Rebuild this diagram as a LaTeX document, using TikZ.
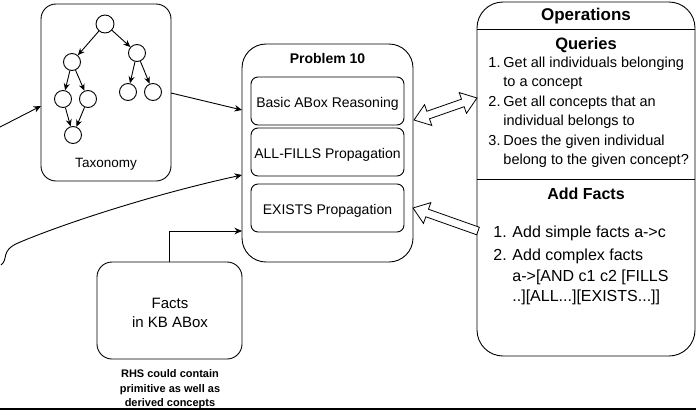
\documentclass[tikz,border=0pt]{standalone}
\usepackage{fontspec}
\setmainfont{Liberation Sans}
\usetikzlibrary{arrows.meta,calc}
\begin{document}
\begin{tikzpicture}[x=1pt,y=-1pt,
  line width=0.9pt,
  rbox/.style={draw, rounded corners=#1, inner sep=0pt, outer sep=0pt},
  tn/.style={draw, circle, minimum size=17pt, inner sep=0pt},
  tarr/.style={-{Stealth[length=7pt,width=6pt]}},
  arr/.style={-{Stealth[length=7.5pt,width=6.5pt]}},
  txt/.style={inner sep=0pt, anchor=base},
  sz/.style={font=\fontsize{#1}{#1}\selectfont},
  bsz/.style={font=\bfseries\fontsize{#1}{#1}\selectfont},
  inbox/.style={rbox=7, minimum width=153pt, minimum height=48pt, sz=14, text height=13pt, text depth=0pt},
  flex/.style={draw, line width=0.8pt, fill=white, line join=miter}
]
\useasboundingbox (0,0) rectangle (696,410);

% Taxonomy
\node[rbox=15, minimum width=130pt, minimum height=177pt] (tax) at (106,92.5) {};
\node[tn, minimum size=18pt] (t0) at (105,24) {};
\node[tn] (t1) at (72,62) {};
\node[tn] (t2) at (137,53) {};
\node[tn] (t3) at (63,99) {};
\node[tn] (t4) at (88,99) {};
\node[tn] (t5) at (128,92) {};
\node[tn] (t6) at (153,92) {};
\node[tn] (t7) at (73,135) {};
\draw[tarr] (t0) -- (t1);
\draw[tarr] (t0) -- (t2);
\draw[tarr] (t1) -- (t3);
\draw[tarr] (t1) -- (t4);
\draw[tarr] (t2) -- (t5);
\draw[tarr] (t2) -- (t6);
\draw[tarr] (t3) -- (t7);
\draw[tarr] (t4) -- (t7);
\node[txt, sz=13.5] (taxl) at (106,167) {Taxonomy};

% Problem 10
\node[rbox=24, minimum width=171pt, minimum height=218pt] (p10) at (327.5,153) {};
\node[txt, bsz=14] (p10t) at (327.5,63) {Problem 10};
\node[inbox] (b1) at (327.5,101) {Basic ABox Reasoning};
\node[inbox] (b2) at (327.5,152) {ALL-FILLS Propagation};
\node[inbox] (b3) at (327.5,208) {EXISTS Propagation};

% Facts
\node[rbox=15, minimum width=145pt, minimum height=97pt] (facts) at (169.5,310.5) {};
\node[txt, sz=15] (factsa) at (170,308.4) {Facts};
\node[txt, sz=15] (factsb) at (170,327.4) {in KB ABox};
\node[txt, bsz=11] (note1) at (170,377) {RHS could contain};
\node[txt, bsz=11] (note2) at (170,392.5) {primitive as well as};
\node[txt, bsz=11] (note3) at (170,406.5) {derived concepts};

% Operations
\node[rbox=26, minimum width=218pt, minimum height=354pt] (ops) at (586,179) {};
\coordinate (hl) at (0,29);
\draw (ops.west |- hl) -- (ops.east |- hl);
\draw (ops.west) -- (ops.east);
\node[txt, bsz=17] (opst) at (586,20) {Operations};
\node[txt, bsz=16.5] (qt) at (586,49) {Queries};
\node[txt, bsz=16] (aft) at (586,199) {Add Facts};
\begin{scope}[every node/.style={inner sep=0pt, sz=14.5, anchor=base west}]
\node (q1n) at (488,67.2) {1.};
\node (q1a) at (503,67.2) {Get all individuals belonging};
\node (q1b) at (503,86.7) {to a concept};
\node (q2n) at (488,106.2) {2.};
\node (q2a) at (503,106.2) {Get all concepts that an};
\node (q2b) at (503,125.7) {individual belongs to};
\node (q3n) at (488,145.2) {3.};
\node (q3a) at (503,145.2) {Does the given individual};
\node (q3b) at (503,164.7) {belong to the given concept?};
\end{scope}
\begin{scope}[every node/.style={inner sep=0pt, sz=16, anchor=base west}]
\node (f1n) at (493,237.8) {1.};
\node (f1a) at (512,237.8) {Add simple facts a->c};
\node (f2n) at (493,260.8) {2.};
\node (f2a) at (512,260.8) {Add complex facts};
\node (f2b) at (512,281.8) {a->[AND c1 c2 [FILLS};
\node (f2c) at (512,301.8) {..][ALL...][EXISTS...]]};
\end{scope}

% connectors
\coordinate (in1) at (0,127);
\draw[arr] (in1) -- ($(tax.west)+(0,13.5)$);
\draw[arr] ($(tax.east)+(0,0.5)$) -- ($(p10.west)+(0,-43)$);
\coordinate (in2) at (1,265);
\draw[arr] (in2) .. controls (9,259) and (0,251) .. (18,243) .. controls (60,225) and (150,195) .. ($(p10.west)+(0,22)$);
\draw[arr] (facts.north) |- ($(p10.west)+(0,78)$);

% flex arrows
\coordinate (qa) at (414,120);
\coordinate (qb) at (477,98);
\draw[flex] (qa) -- ($(qa)!15pt!(qb)!11pt!90:(qb)$) -- ($(qa)!15pt!(qb)!4pt!90:(qb)$)
  -- ($(qb)!15pt!(qa)!4pt!90:(qb)$) -- ($(qb)!15pt!(qa)!11pt!90:(qb)$) -- (qb)
  -- ($(qb)!15pt!(qa)!11pt!-90:(qb)$) -- ($(qb)!15pt!(qa)!4pt!-90:(qb)$)
  -- ($(qa)!15pt!(qb)!4pt!-90:(qb)$) -- ($(qa)!15pt!(qb)!11pt!-90:(qb)$) -- cycle;
\coordinate (ea) at (413,208);
\coordinate (eb) at (478,231);
\draw[flex] (ea) -- ($(ea)!15pt!(eb)!11pt!90:(eb)$) -- ($(ea)!15pt!(eb)!4pt!90:(eb)$)
  -- ($(eb)!4pt!-90:(ea)$) -- ($(eb)!4pt!90:(ea)$)
  -- ($(ea)!15pt!(eb)!4pt!-90:(eb)$) -- ($(ea)!15pt!(eb)!11pt!-90:(eb)$) -- cycle;

% bottom rule
\coordinate (bl) at (0,409);
\coordinate (br) at (696,409);
\draw[line width=2pt] (bl) -- (br);
\end{tikzpicture}
\end{document}
